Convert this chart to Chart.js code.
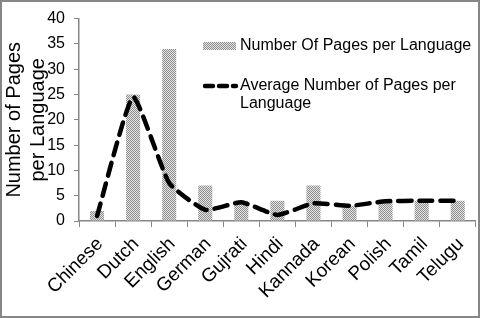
<!DOCTYPE html>
<html>
<head>
<meta charset="utf-8">
<script src="https://cdn.jsdelivr.net/npm/chart.js@4"></script>
<style>
  html, body { margin: 0; padding: 0; background: #fff; }
  #wrap { width: 480px; height: 318px; position: relative; }
</style>
</head>
<body>
<div id="wrap"><canvas id="chart" width="480" height="318"></canvas></div>
<script>
const languages = ["Chinese", "Dutch", "English", "German", "Gujrati", "Hindi", "Kannada", "Korean", "Polish", "Tamil", "Telugu"];
const pagesPerLanguage = [2, 25, 34, 7, 4, 4, 7, 3, 4, 4, 4];
const averagePages = [1, 24.5, 7.5, 2.2, 3.7, 1.2, 3.5, 3.0, 3.9, 4, 4];
const yTicks = [0, 5, 10, 15, 20, 25, 30, 35, 40];

const FONT = "'Liberation Sans', Arial, sans-serif";
const GRAY = '#868686';

// fine checker pattern like the excel fill
function makePattern() {
    const c = document.createElement('canvas');
    c.width = 2; c.height = 2;
    const g = c.getContext('2d');
    g.fillStyle = '#e4e4e4';
    g.fillRect(0, 0, 2, 2);
    g.fillStyle = '#8e8e8e';
    g.fillRect(0, 0, 1, 1);
    g.fillRect(1, 1, 1, 1);
    return g.createPattern(c, 'repeat');
}
const barFill = makePattern();

// legend + outer frame drawn by hand, excel style
const excelLegend = {
    id: 'excelLegend',
    afterDraw(chart) {
        const ctx = chart.ctx;
        const ds = chart.data.datasets;
        ctx.save();
        ctx.font = '16px ' + FONT;
        ctx.fillStyle = '#000';
        ctx.textBaseline = 'middle';
        ctx.textAlign = 'left';

        ctx.fillStyle = barFill;
        ctx.fillRect(203, 42, 33, 8);
        ctx.fillStyle = '#000';
        ctx.fillText(ds[0].label, 240, 46);

        ctx.strokeStyle = '#000';
        ctx.lineWidth = 4.5;
        ctx.lineCap = 'round';
        ctx.setLineDash([8, 6]);
        ctx.beginPath();
        ctx.moveTo(205, 86);
        ctx.lineTo(236, 86);
        ctx.stroke();
        ctx.setLineDash([]);
        const words = ds[1].label.split(' ');
        ctx.fillText(words.slice(0, -1).join(' '), 240, 86);
        ctx.fillText(words[words.length - 1], 240, 104);

        ctx.strokeStyle = GRAY;
        ctx.lineWidth = 2;
        ctx.strokeRect(1, 1, 478, 316);
        ctx.restore();
    }
};

new Chart(document.getElementById('chart'), {
    type: 'bar',
    data: {
        labels: languages,
        datasets: [{
            type: 'bar',
            label: 'Number Of Pages per Language',
            data: pagesPerLanguage,
            backgroundColor: barFill,
            borderWidth: 0,
            categoryPercentage: 1,
            barPercentage: 0.39,
            order: 2
        }, {
            type: 'line',
            label: 'Average Number of Pages per Language',
            data: averagePages,
            borderColor: '#000',
            borderWidth: 4.5,
            borderDash: [13, 8],
            borderCapStyle: 'round',
            pointRadius: 0,
            tension: 0.15,
            fill: false,
            order: 1
        }]
    },
    options: {
        responsive: false,
        animation: false,
        devicePixelRatio: 1,
        layout: { padding: { top: 12, right: 3, left: 0, bottom: 0 } },
        plugins: {
            legend: { display: false },
            tooltip: { enabled: false }
        },
        scales: {
            x: {
                offset: true,
                grid: { offset: true, drawOnChartArea: false, tickLength: 6, color: GRAY },
                border: { color: GRAY, width: 1.5 },
                ticks: {
                    color: '#000',
                    font: { family: FONT, size: 19 },
                    minRotation: 45,
                    maxRotation: 45,
                    padding: 6,
                    labelOffset: 3,
                    autoSkip: false
                },
                afterFit(scale) { scale.height = 97; }
            },
            y: {
                min: 0,
                max: 40,
                afterBuildTicks(scale) { scale.ticks = yTicks.map(v => ({ value: v })); },
                grid: { drawOnChartArea: false, tickLength: 5, color: GRAY },
                border: { color: GRAY, width: 1.5 },
                ticks: {
                    color: '#000',
                    font: { family: FONT, size: 16 },
                    padding: 9
                },
                title: {
                    display: true,
                    text: ['Number of Pages', 'per Language'],
                    color: '#000',
                    font: { family: FONT, size: 20 },
                    padding: { top: 2, bottom: 0 }
                },
                afterFit(scale) { scale.width = 79; }
            }
        }
    },
    plugins: [excelLegend]
});
</script>
</body>
</html>
